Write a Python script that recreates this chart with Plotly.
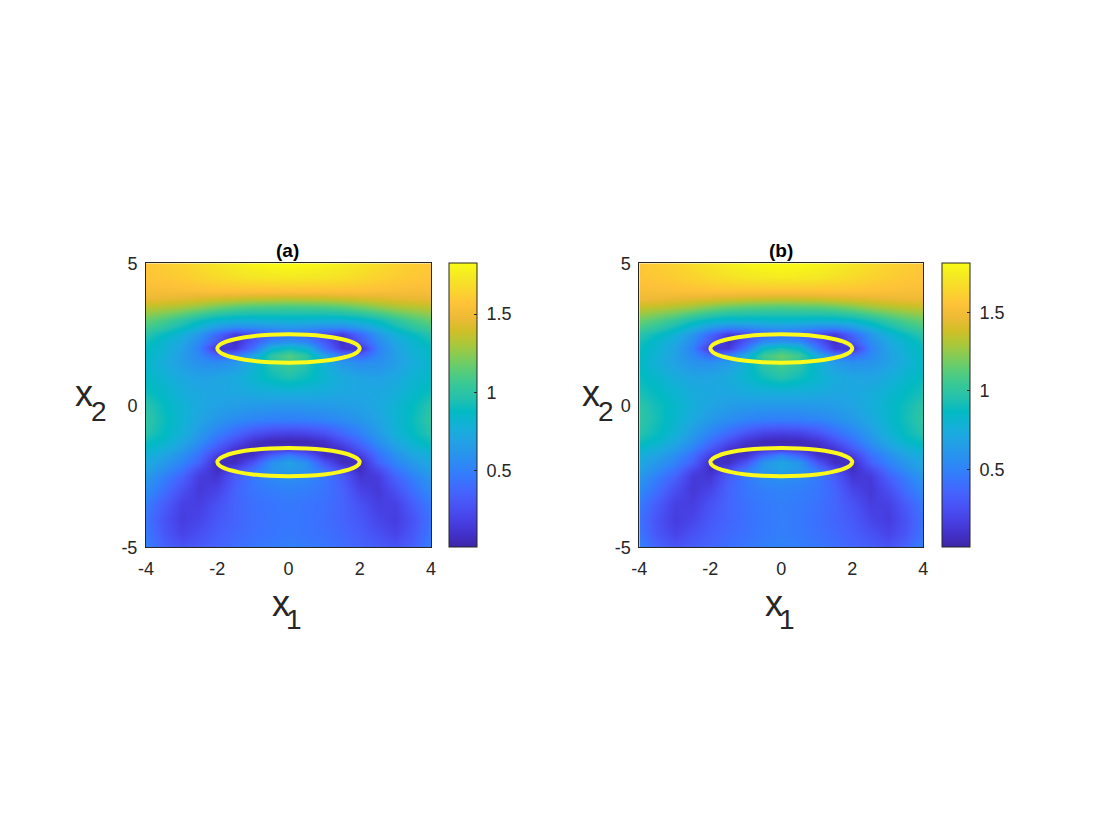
import plotly.graph_objects as go

W, H = 1120, 840
MARGIN = 40

# grid, right half only (the field is mirrored about x1=0)
x_half = [0, 0.5, 1, 1.5, 2, 2.5, 3, 3.5, 4]
y_rows = [5, 4.5, 4, 3.75, 3.5, 3, 2.75, 2.5, 2.25, 2, 1.75, 1.5, 1, 0.5, 0, -0.5, -1,
          -1.25, -1.5, -1.75, -2, -2.25, -2.5, -3, -3.5, -4, -4.5, -5]

z_a_half = [
    [1.82, 1.81, 1.79, 1.76, 1.72, 1.68, 1.64, 1.61, 1.58],
    [1.74, 1.73, 1.72, 1.70, 1.67, 1.64, 1.61, 1.59, 1.57],
    [1.55, 1.55, 1.55, 1.55, 1.55, 1.54, 1.53, 1.52, 1.52],
    [1.32, 1.33, 1.34, 1.36, 1.38, 1.41, 1.43, 1.45, 1.46],
    [1.10, 1.11, 1.12, 1.15, 1.20, 1.26, 1.31, 1.34, 1.36],
    [0.80, 0.79, 0.78, 0.78, 0.82, 0.90, 1.00, 1.09, 1.16],
    [0.62, 0.60, 0.56, 0.55, 0.64, 0.78, 0.90, 1.00, 1.08],
    [0.42, 0.36, 0.24, 0.15, 0.38, 0.62, 0.78, 0.88, 0.98],
    [0.58, 0.52, 0.30, 0.08, 0.30, 0.55, 0.72, 0.82, 0.92],
    [0.90, 0.80, 0.42, 0.14, 0.10, 0.50, 0.68, 0.80, 0.88],
    [1.12, 1.00, 0.70, 0.45, 0.36, 0.54, 0.66, 0.78, 0.88],
    [1.08, 0.98, 0.78, 0.62, 0.56, 0.58, 0.66, 0.75, 0.85],
    [0.95, 0.90, 0.82, 0.74, 0.70, 0.68, 0.72, 0.80, 0.87],
    [0.78, 0.77, 0.75, 0.72, 0.71, 0.72, 0.76, 0.84, 0.90],
    [0.62, 0.63, 0.64, 0.66, 0.68, 0.72, 0.80, 0.88, 0.98],
    [0.50, 0.50, 0.52, 0.56, 0.62, 0.70, 0.80, 0.90, 1.01],
    [0.18, 0.20, 0.26, 0.38, 0.50, 0.64, 0.78, 0.88, 0.97],
    [0.03, 0.04, 0.10, 0.24, 0.40, 0.58, 0.72, 0.83, 0.91],
    [0.12, 0.08, 0.03, 0.12, 0.30, 0.50, 0.66, 0.78, 0.85],
    [0.50, 0.35, 0.10, 0.04, 0.16, 0.42, 0.58, 0.70, 0.78],
    [0.68, 0.58, 0.28, 0.07, 0.06, 0.36, 0.52, 0.64, 0.74],
    [0.66, 0.60, 0.42, 0.22, 0.07, 0.24, 0.44, 0.58, 0.70],
    [0.58, 0.55, 0.46, 0.32, 0.12, 0.16, 0.36, 0.50, 0.64],
    [0.50, 0.48, 0.44, 0.36, 0.20, 0.14, 0.26, 0.42, 0.56],
    [0.46, 0.44, 0.42, 0.36, 0.27, 0.17, 0.18, 0.33, 0.48],
    [0.45, 0.44, 0.41, 0.36, 0.30, 0.21, 0.16, 0.28, 0.44],
    [0.46, 0.44, 0.42, 0.38, 0.33, 0.26, 0.20, 0.30, 0.46],
    [0.50, 0.48, 0.45, 0.41, 0.36, 0.32, 0.28, 0.35, 0.50],
]
z_b_half = [
    [1.81, 1.80, 1.78, 1.75, 1.71, 1.67, 1.63, 1.60, 1.57],
    [1.74, 1.73, 1.72, 1.69, 1.66, 1.63, 1.60, 1.58, 1.56],
    [1.55, 1.55, 1.55, 1.55, 1.55, 1.54, 1.53, 1.52, 1.52],
    [1.34, 1.35, 1.36, 1.38, 1.40, 1.42, 1.44, 1.46, 1.47],
    [1.12, 1.13, 1.14, 1.17, 1.22, 1.28, 1.32, 1.35, 1.37],
    [0.82, 0.81, 0.80, 0.80, 0.84, 0.92, 1.02, 1.10, 1.16],
    [0.62, 0.60, 0.55, 0.53, 0.63, 0.78, 0.90, 1.00, 1.08],
    [0.40, 0.34, 0.22, 0.13, 0.36, 0.61, 0.78, 0.88, 0.98],
    [0.60, 0.54, 0.30, 0.07, 0.28, 0.55, 0.72, 0.82, 0.92],
    [0.95, 0.85, 0.46, 0.14, 0.10, 0.50, 0.68, 0.80, 0.88],
    [1.15, 1.05, 0.74, 0.48, 0.38, 0.54, 0.67, 0.78, 0.88],
    [1.10, 1.00, 0.80, 0.64, 0.57, 0.59, 0.67, 0.76, 0.86],
    [0.96, 0.90, 0.82, 0.74, 0.70, 0.69, 0.74, 0.82, 0.88],
    [0.76, 0.76, 0.74, 0.71, 0.71, 0.74, 0.80, 0.86, 0.92],
    [0.62, 0.62, 0.63, 0.65, 0.69, 0.75, 0.83, 0.90, 0.98],
    [0.48, 0.49, 0.51, 0.56, 0.63, 0.72, 0.82, 0.91, 1.00],
    [0.16, 0.18, 0.26, 0.38, 0.50, 0.64, 0.78, 0.88, 0.96],
    [0.03, 0.04, 0.10, 0.24, 0.40, 0.58, 0.72, 0.83, 0.90],
    [0.10, 0.07, 0.03, 0.12, 0.30, 0.50, 0.65, 0.76, 0.83],
    [0.52, 0.36, 0.10, 0.04, 0.16, 0.40, 0.56, 0.68, 0.76],
    [0.70, 0.60, 0.28, 0.07, 0.06, 0.34, 0.50, 0.62, 0.72],
    [0.68, 0.62, 0.44, 0.22, 0.07, 0.22, 0.42, 0.56, 0.68],
    [0.58, 0.55, 0.46, 0.32, 0.12, 0.14, 0.34, 0.48, 0.62],
    [0.50, 0.48, 0.44, 0.36, 0.20, 0.13, 0.24, 0.40, 0.54],
    [0.48, 0.46, 0.42, 0.36, 0.27, 0.16, 0.17, 0.31, 0.46],
    [0.48, 0.45, 0.41, 0.36, 0.30, 0.20, 0.15, 0.27, 0.42],
    [0.48, 0.46, 0.42, 0.38, 0.33, 0.26, 0.19, 0.28, 0.44],
    [0.50, 0.48, 0.45, 0.41, 0.36, 0.32, 0.28, 0.35, 0.50],
]

# the two traced level curves
curve_x = [2, 1.93, 1.73, 1.41, 1, 0.52, 0, -0.52, -1, -1.41, -1.73, -1.93, -2,
           -1.93, -1.73, -1.41, -1, -0.52, 0, 0.52, 1, 1.41, 1.73, 1.93, 2]
curve_top_y = [2, 2.13, 2.25, 2.354, 2.433, 2.483, 2.5, 2.483, 2.433, 2.354, 2.25, 2.13, 2,
               1.87, 1.75, 1.646, 1.567, 1.517, 1.5, 1.517, 1.567, 1.646, 1.75, 1.87, 2]
curve_bot_y = [-2, -1.87, -1.75, -1.646, -1.567, -1.517, -1.5, -1.517, -1.567, -1.646, -1.75, -1.87, -2,
               -2.13, -2.25, -2.354, -2.433, -2.483, -2.5, -2.483, -2.433, -2.354, -2.25, -2.13, -2]

titles = ["(a)", "(b)"]
x_ticks = [-4, -2, 0, 2, 4]
x_ticktext = ["-4", "-2", "0", "2", "4"]
y_ticks = [-5, 0, 5]
y_ticktext = ["-5", "0", "5"]
cb_ticks = [0.5, 1, 1.5]
cb_ticktext = ["\u00a00.5", "\u00a01", "\u00a01.5"]  # nbsp pushes the labels off the bar
z_ranges = [(0.011, 1.824), (0.003, 1.812)]

parula = ["#3e26a8", "#4332cb", "#4741e5", "#4852f4", "#4563fd", "#3875fe", "#2e87f7", "#2796eb",
          "#20a5e3", "#12b1d6", "#02bac3", "#24c1ae", "#37c897", "#57cc7a", "#80cc59", "#abc739",
          "#d1bf27", "#efba36", "#fec338", "#fad62d", "#f5e924", "#f9fb15"]
text_color = "#262626"
font = "Liberation Sans"


def mirror(rows):
    return [r[:0:-1] + r for r in rows]


# page pixels to paper fractions, with the fixed margin
def fx(px):
    return (px - MARGIN) / (W - 2 * MARGIN)


def fy(py):
    return 1 - (py - MARGIN) / (H - 2 * MARGIN)


x_grid = [-v for v in x_half[:0:-1]] + x_half

panels = [
    dict(z=mirror(z_a_half), left=146, right=431, top=263.3, bottom=547.3, cb_left=449.3, cb_right=477.3,
         title_x=287.5, lab_x=281, lab2_x=84),
    dict(z=mirror(z_b_half), left=639.3, right=923.3, top=263.3, bottom=547.3, cb_left=942.3, cb_right=970.5,
         title_x=780.5, lab_x=774, lab2_x=591),
]

fig = go.Figure()
annotations = []
for i, p in enumerate(panels):
    n = "" if i == 0 else "2"
    fig.add_trace(go.Heatmap(
        x=x_grid, y=y_rows, z=p["z"], zsmooth="best", colorscale=parula,
        zmin=z_ranges[i][0], zmax=z_ranges[i][1], xaxis="x" + n, yaxis="y" + n,
        colorbar=dict(
            x=fx(p["cb_left"]), xanchor="left", y=fy(p["bottom"]), yanchor="bottom",
            len=fy(p["top"]) - fy(p["bottom"]), lenmode="fraction",
            thickness=p["cb_right"] - p["cb_left"], thicknessmode="pixels",
            tickvals=cb_ticks, ticktext=cb_ticktext, ticks="inside", ticklen=3, tickwidth=1,
            tickcolor=text_color, outlinewidth=1, outlinecolor=text_color,
            xpad=0, ypad=0, tickfont=dict(family=font, size=18, color=text_color),
        ),
    ))
    for cy in (curve_top_y, curve_bot_y):
        fig.add_trace(go.Scatter(
            x=curve_x, y=cy, mode="lines", line=dict(color="#fcf91c", width=4, shape="spline"),
            xaxis="x" + n, yaxis="y" + n, showlegend=False, hoverinfo="skip",
        ))
    axis = dict(showgrid=False, zeroline=False, showline=True, linecolor=text_color, linewidth=1,
                mirror=True, ticks="", tickfont=dict(family=font, size=18, color=text_color))
    fig.update_layout({
        "xaxis" + n: dict(axis, domain=[fx(p["left"]), fx(p["right"])], range=[-4, 4], ticklabelstandoff=5,
                          tickvals=x_ticks, ticktext=x_ticktext, anchor="y" + n),
        "yaxis" + n: dict(axis, domain=[fy(p["bottom"]), fy(p["top"])], range=[-5, 5], ticklabelstandoff=4,
                          tickvals=y_ticks, ticktext=y_ticktext, anchor="x" + n),
    })
    text_items = [
        ("<b>%s</b>" % titles[i], p["title_x"], 250, 19, "black"),
        ("x", p["lab_x"], 603, 36, text_color),
        ("1", p["lab_x"] + 13, 619, 28, text_color),
        ("x", p["lab2_x"], 393, 36, text_color),
        ("2", p["lab2_x"] + 15, 411, 28, text_color),
    ]
    for txt, tx, ty, size, color in text_items:
        annotations.append(dict(text=txt, x=fx(tx), y=fy(ty), xref="paper", yref="paper",
                                xanchor="center", yanchor="middle", showarrow=False,
                                font=dict(family=font, size=size, color=color)))

fig.update_layout(width=W, height=H, margin=dict(l=MARGIN, r=MARGIN, t=MARGIN, b=MARGIN), showlegend=False,
                  paper_bgcolor="white", plot_bgcolor="white", annotations=annotations)
fig.write_html("out.html", config=dict(displayModeBar=False), post_script="document.body.style.margin='0';")
